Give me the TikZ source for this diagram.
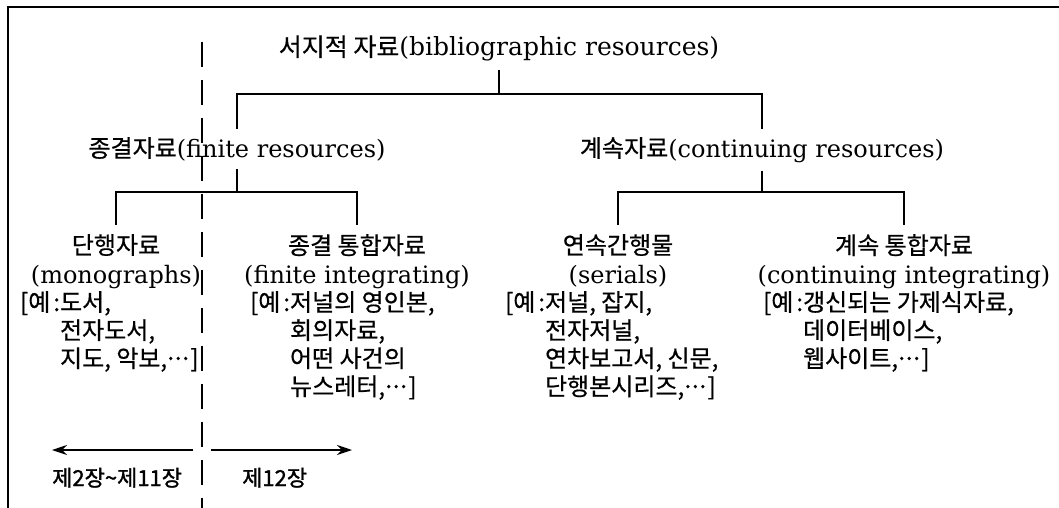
\documentclass[tikz,border=0pt]{standalone}
\usepackage{fontspec}
\setmainfont{DejaVu Serif}
\newfontfamily\kr[FakeBold=0.6]{Noto Sans CJK KR}
\newfontfamily\krbold[FakeBold=1.2]{Noto Sans CJK KR}
\usepackage{tikz}
\usetikzlibrary{arrows.meta,positioning}
\newcommand{\ko}[1]{{\kr #1}}
\newcommand{\eg}{\ko{[예\hspace{3pt}:\hspace{3pt}}}
\newcommand{\etc}{\ko{\kern-3pt·\kern-6pt·\kern-6pt·\kern-2pt]}}
\newcommand{\exlist}[1]{\begin{tabular}[t]{@{}l@{}l@{}}#1\end{tabular}}
\newcommand{\chaparrow}{-{Stealth[length=15pt,width=10pt]}}

\begin{document}
\begin{tikzpicture}[x=1pt,y=-1pt,
    every node/.style={inner sep=0pt,font=\fontsize{24}{27.5}\selectfont},
    head/.style={anchor=north,align=center,inner ysep=9pt,font=\fontsize{24}{29}\selectfont},
    ex/.style={anchor=base west},
    chap/.style={anchor=base west,font=\fontsize{22}{24}\selectfont\krbold},
    tree/.style={line width=1.5pt},
    cut/.style={line width=1.4pt,dash pattern=on 25pt off 13pt}]
    \useasboundingbox (0,0) rectangle (1059,508);
    % frame
    \draw[tree] (8,508) -- (8,7) -- (1059,7);
    % chapter split
    \coordinate (cut top) at (202,42);
    \coordinate (cut bot) at (202,508);
    \draw[cut] (cut top) -- (cut bot);
    % levels
    \node[anchor=base,inner ysep=8pt,font=\fontsize{25}{28}\selectfont] (root) at (499,56) {\ko{서지적 자료}(bibliographic resources)};
    \node[anchor=base,inner ysep=8pt] (fin) at (237,157) {\ko{종결자료}(finite resources)};
    \node[anchor=base,inner ysep=8pt] (con) at (762,157) {\ko{계속자료}(continuing resources)};
    \node[head] (mono) at (116,225) {\ko{단행자료}\\(monographs)};
    \node[head] (finint) at (357,225) {\ko{종결 통합자료}\\(finite integrating)};
    \node[head] (serial) at (618,225) {\ko{연속간행물}\\(serials)};
    \node[head] (conint) at (904,225) {\ko{계속 통합자료}\\(continuing integrating)};
    % examples
    \node[ex] (monoex) at (20,311) {\exlist{\eg&\ko{도서,}\\&\ko{전자도서,}\\&\ko{지도, 악보,}\etc}};
    \node[ex] (finintex) at (250,311) {\exlist{\eg&\ko{저널의 영인본,}\\&\ko{회의자료,}\\&\ko{어떤 사건의}\\&\ko{뉴스레터,}\etc}};
    \node[ex] (serialex) at (505,311) {\exlist{\eg&\ko{저널, 잡지,}\\&\ko{전자저널,}\\&\ko{연차보고서, 신문,}\\&\ko{단행본시리즈,}\etc}};
    \node[ex] (conintex) at (763,311) {\exlist{\eg&\ko{갱신되는 가제식자료,}\\&\ko{데이터베이스,}\\&\ko{웹사이트,}\etc}};
    % tree lines
    \coordinate (bar1) at (0,94);
    \coordinate (bar2) at (0,192);
    \draw[tree] (root.south) -- (root.south |- bar1);
    \draw[tree] (fin.north) |- (root.south |- bar1) -| (con.north);
    \draw[tree] (fin.south) -- (fin.south |- bar2);
    \draw[tree] (mono.north) |- (fin.south |- bar2) -| (finint.north);
    \draw[tree] (con.south) -- (con.south |- bar2);
    \draw[tree] (serial.north) |- (con.south |- bar2) -| (conint.north);
    % chapters
    \coordinate (ch left) at (52,450);
    \coordinate (ch mid l) at (193,450);
    \coordinate (ch mid r) at (211,450);
    \coordinate (ch right) at (352,450);
    \draw[tree,\chaparrow] (ch mid l) -- (ch left);
    \draw[tree,\chaparrow] (ch mid r) -- (ch right);
    \node[chap] (chold) at (52,486) {제2장\textasciitilde 제11장};
    \node[chap] (chnew) at (242,486) {제12장};
\end{tikzpicture}
\end{document}
